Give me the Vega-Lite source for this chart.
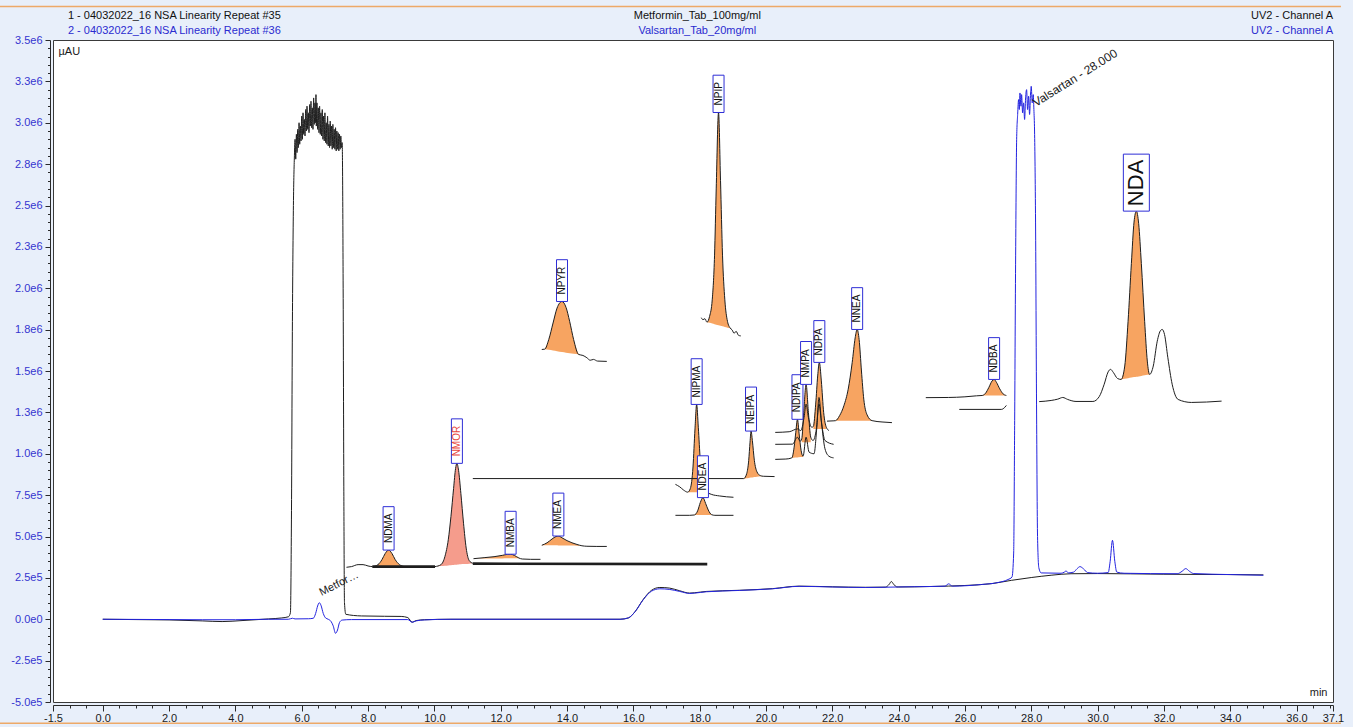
{
  "$schema": "https://vega.github.io/schema/vega-lite/v6.json",
  "width": 1280,
  "height": 662,
  "autosize": {"type": "none"},
  "padding": {"left": 53, "top": 40, "right": 20, "bottom": 25},
  "background": "#e8effa",
  "config": {
    "font": "Liberation Sans",
    "view": {"stroke": "#3a3a3a", "strokeWidth": 1, "fill": "white"}
  },
  "datasets": {
    "header": [
      {"label": "1 - 04032022_16 NSA Linearity Repeat #35", "col": "left", "run": 1},
      {"label": "2 - 04032022_16 NSA Linearity Repeat #36", "col": "left", "run": 2},
      {"label": "Metformin_Tab_100mg/ml", "col": "mid", "run": 1},
      {"label": "Valsartan_Tab_20mg/ml", "col": "mid", "run": 2},
      {"label": "UV2 - Channel A", "col": "right", "run": 1},
      {"label": "UV2 - Channel A", "col": "right", "run": 2}
    ],
    "edges": [
      {"edge": "top"},
      {"edge": "bottom"}
    ],
    "peaks": [
      {"name": "NDMA", "t": 8.62, "v": 418000},
      {"name": "NMOR", "t": 10.68, "v": 942000},
      {"name": "NMBA", "t": 12.3, "v": 393000},
      {"name": "NMEA", "t": 13.74, "v": 503000},
      {"name": "NPYR", "t": 13.85, "v": 1920000},
      {"name": "NIPMA", "t": 17.91, "v": 1298000},
      {"name": "NDEA", "t": 18.1, "v": 735000},
      {"name": "NPIP", "t": 18.57, "v": 3062000},
      {"name": "NEIPA", "t": 19.55, "v": 1137000},
      {"name": "NDIPA", "t": 20.95, "v": 1208000},
      {"name": "NMPA", "t": 21.21, "v": 1419000},
      {"name": "NDPA", "t": 21.61, "v": 1552000},
      {"name": "NNEA", "t": 22.75, "v": 1751000},
      {"name": "NDBA", "t": 26.88, "v": 1449000},
      {"name": "NDA", "t": 31.17, "v": 2466000}
    ],
    "callouts": [
      {"label": "Metfor…", "t": 6.6, "v": 140000},
      {"label": "Valsartan - 28.000", "t": 28.0, "v": 3220000}
    ],
    "traces": [
      {"s": "metformin", "t": 0, "v": 0},
      {"s": "metformin", "t": 1, "v": -2000},
      {"s": "metformin", "t": 2, "v": -4000},
      {"s": "metformin", "t": 3, "v": -10000},
      {"s": "metformin", "t": 3.6, "v": -14000},
      {"s": "metformin", "t": 4.2, "v": -8000},
      {"s": "metformin", "t": 5, "v": 2000},
      {"s": "metformin", "t": 5.4, "v": 8000},
      {"s": "metformin", "t": 5.6, "v": 15000},
      {"s": "metformin", "t": 5.66, "v": 40000},
      {"s": "metformin", "t": 5.69, "v": 600000},
      {"s": "metformin", "t": 5.72, "v": 1800000},
      {"s": "metformin", "t": 5.75, "v": 2500000},
      {"s": "metformin", "t": 5.78, "v": 2800000},
      {"s": "metformin", "t": 5.80, "v": 2900000},
      {"s": "metformin", "t": 5.82, "v": 2780000},
      {"s": "metformin", "t": 5.84, "v": 2930000},
      {"s": "metformin", "t": 5.86, "v": 2820000},
      {"s": "metformin", "t": 5.88, "v": 2960000},
      {"s": "metformin", "t": 5.90, "v": 2850000},
      {"s": "metformin", "t": 5.92, "v": 3000000},
      {"s": "metformin", "t": 5.94, "v": 2870000},
      {"s": "metformin", "t": 5.96, "v": 2980000},
      {"s": "metformin", "t": 5.98, "v": 2890000},
      {"s": "metformin", "t": 6.00, "v": 3040000},
      {"s": "metformin", "t": 6.02, "v": 2900000},
      {"s": "metformin", "t": 6.04, "v": 3060000},
      {"s": "metformin", "t": 6.06, "v": 2930000},
      {"s": "metformin", "t": 6.08, "v": 3020000},
      {"s": "metformin", "t": 6.10, "v": 2920000},
      {"s": "metformin", "t": 6.12, "v": 3080000},
      {"s": "metformin", "t": 6.14, "v": 2950000},
      {"s": "metformin", "t": 6.16, "v": 3100000},
      {"s": "metformin", "t": 6.18, "v": 2960000},
      {"s": "metformin", "t": 6.20, "v": 3060000},
      {"s": "metformin", "t": 6.22, "v": 2940000},
      {"s": "metformin", "t": 6.24, "v": 3110000},
      {"s": "metformin", "t": 6.26, "v": 2980000},
      {"s": "metformin", "t": 6.28, "v": 3130000},
      {"s": "metformin", "t": 6.30, "v": 2970000},
      {"s": "metformin", "t": 6.32, "v": 3090000},
      {"s": "metformin", "t": 6.34, "v": 2960000},
      {"s": "metformin", "t": 6.36, "v": 3150000},
      {"s": "metformin", "t": 6.38, "v": 2990000},
      {"s": "metformin", "t": 6.40, "v": 3120000},
      {"s": "metformin", "t": 6.42, "v": 3000000},
      {"s": "metformin", "t": 6.43, "v": 3170000},
      {"s": "metformin", "t": 6.44, "v": 2980000},
      {"s": "metformin", "t": 6.46, "v": 3120000},
      {"s": "metformin", "t": 6.48, "v": 2960000},
      {"s": "metformin", "t": 6.50, "v": 3090000},
      {"s": "metformin", "t": 6.52, "v": 2940000},
      {"s": "metformin", "t": 6.54, "v": 3100000},
      {"s": "metformin", "t": 6.56, "v": 2930000},
      {"s": "metformin", "t": 6.58, "v": 3060000},
      {"s": "metformin", "t": 6.60, "v": 2920000},
      {"s": "metformin", "t": 6.62, "v": 3080000},
      {"s": "metformin", "t": 6.64, "v": 2900000},
      {"s": "metformin", "t": 6.66, "v": 3040000},
      {"s": "metformin", "t": 6.68, "v": 2890000},
      {"s": "metformin", "t": 6.70, "v": 3060000},
      {"s": "metformin", "t": 6.72, "v": 2880000},
      {"s": "metformin", "t": 6.74, "v": 3000000},
      {"s": "metformin", "t": 6.76, "v": 2870000},
      {"s": "metformin", "t": 6.78, "v": 3040000},
      {"s": "metformin", "t": 6.80, "v": 2860000},
      {"s": "metformin", "t": 6.82, "v": 2990000},
      {"s": "metformin", "t": 6.84, "v": 2850000},
      {"s": "metformin", "t": 6.86, "v": 3010000},
      {"s": "metformin", "t": 6.88, "v": 2860000},
      {"s": "metformin", "t": 6.90, "v": 2980000},
      {"s": "metformin", "t": 6.92, "v": 2840000},
      {"s": "metformin", "t": 6.94, "v": 2990000},
      {"s": "metformin", "t": 6.96, "v": 2850000},
      {"s": "metformin", "t": 6.98, "v": 2960000},
      {"s": "metformin", "t": 7.00, "v": 2840000},
      {"s": "metformin", "t": 7.02, "v": 2970000},
      {"s": "metformin", "t": 7.04, "v": 2830000},
      {"s": "metformin", "t": 7.06, "v": 2950000},
      {"s": "metformin", "t": 7.08, "v": 2840000},
      {"s": "metformin", "t": 7.10, "v": 2940000},
      {"s": "metformin", "t": 7.12, "v": 2830000},
      {"s": "metformin", "t": 7.14, "v": 2930000},
      {"s": "metformin", "t": 7.16, "v": 2840000},
      {"s": "metformin", "t": 7.18, "v": 2920000},
      {"s": "metformin", "t": 7.20, "v": 2850000},
      {"s": "metformin", "t": 7.22, "v": 2880000},
      {"s": "metformin", "t": 7.25, "v": 2000000},
      {"s": "metformin", "t": 7.27, "v": 800000},
      {"s": "metformin", "t": 7.29, "v": 100000},
      {"s": "metformin", "t": 7.33, "v": 30000},
      {"s": "metformin", "t": 7.8, "v": 20000},
      {"s": "metformin", "t": 8.5, "v": 18000},
      {"s": "metformin", "t": 9.0, "v": 17000},
      {"s": "metformin", "t": 9.2, "v": 10000},
      {"s": "metformin", "t": 9.33, "v": -18000},
      {"s": "metformin", "t": 9.45, "v": -8000},
      {"s": "metformin", "t": 9.7, "v": -3000},
      {"s": "metformin", "t": 10.5, "v": 0},
      {"s": "metformin", "t": 15.6, "v": 0},
      {"s": "metformin", "t": 15.85, "v": 8000},
      {"s": "metformin", "t": 16.05, "v": 45000},
      {"s": "metformin", "t": 16.3, "v": 120000},
      {"s": "metformin", "t": 16.55, "v": 175000},
      {"s": "metformin", "t": 16.8, "v": 192000},
      {"s": "metformin", "t": 17.1, "v": 188000},
      {"s": "metformin", "t": 17.4, "v": 172000},
      {"s": "metformin", "t": 17.7, "v": 158000},
      {"s": "metformin", "t": 17.85, "v": 160000},
      {"s": "metformin", "t": 18.2, "v": 168000},
      {"s": "metformin", "t": 19.2, "v": 175000},
      {"s": "metformin", "t": 20.2, "v": 185000},
      {"s": "metformin", "t": 21.0, "v": 200000},
      {"s": "metformin", "t": 22.0, "v": 196000},
      {"s": "metformin", "t": 23.0, "v": 193000},
      {"s": "metformin", "t": 23.6, "v": 194000},
      {"s": "metformin", "t": 23.72, "v": 212000},
      {"s": "metformin", "t": 23.78, "v": 228000},
      {"s": "metformin", "t": 23.85, "v": 212000},
      {"s": "metformin", "t": 23.95, "v": 195000},
      {"s": "metformin", "t": 25.0, "v": 198000},
      {"s": "metformin", "t": 26.0, "v": 204000},
      {"s": "metformin", "t": 26.8, "v": 215000},
      {"s": "metformin", "t": 27.4, "v": 235000},
      {"s": "metformin", "t": 28.0, "v": 252000},
      {"s": "metformin", "t": 28.6, "v": 266000},
      {"s": "metformin", "t": 29.2, "v": 275000},
      {"s": "metformin", "t": 30.0, "v": 276000},
      {"s": "metformin", "t": 32.0, "v": 272000},
      {"s": "metformin", "t": 34.0, "v": 270000},
      {"s": "metformin", "t": 35.0, "v": 268000},

      {"s": "valsartan", "t": 0, "v": 0},
      {"s": "valsartan", "t": 1, "v": -1000},
      {"s": "valsartan", "t": 2, "v": -2000},
      {"s": "valsartan", "t": 3, "v": -3000},
      {"s": "valsartan", "t": 4, "v": -3000},
      {"s": "valsartan", "t": 5, "v": 0},
      {"s": "valsartan", "t": 5.6, "v": 0},
      {"s": "valsartan", "t": 5.72, "v": 6000},
      {"s": "valsartan", "t": 5.8, "v": 2000},
      {"s": "valsartan", "t": 6.2, "v": 3000},
      {"s": "valsartan", "t": 6.35, "v": 6000},
      {"s": "valsartan", "t": 6.42, "v": 35000},
      {"s": "valsartan", "t": 6.48, "v": 80000},
      {"s": "valsartan", "t": 6.53, "v": 100000},
      {"s": "valsartan", "t": 6.58, "v": 85000},
      {"s": "valsartan", "t": 6.65, "v": 35000},
      {"s": "valsartan", "t": 6.72, "v": 8000},
      {"s": "valsartan", "t": 6.8, "v": 0},
      {"s": "valsartan", "t": 6.88, "v": -12000},
      {"s": "valsartan", "t": 6.95, "v": -40000},
      {"s": "valsartan", "t": 7.02, "v": -85000},
      {"s": "valsartan", "t": 7.08, "v": -65000},
      {"s": "valsartan", "t": 7.14, "v": -20000},
      {"s": "valsartan", "t": 7.22, "v": -5000},
      {"s": "valsartan", "t": 7.5, "v": -2000},
      {"s": "valsartan", "t": 9.2, "v": -2000},
      {"s": "valsartan", "t": 9.33, "v": -18000},
      {"s": "valsartan", "t": 9.45, "v": -10000},
      {"s": "valsartan", "t": 9.7, "v": -4000},
      {"s": "valsartan", "t": 10.5, "v": 0},
      {"s": "valsartan", "t": 15.6, "v": 0},
      {"s": "valsartan", "t": 15.85, "v": 8000},
      {"s": "valsartan", "t": 16.05, "v": 45000},
      {"s": "valsartan", "t": 16.3, "v": 118000},
      {"s": "valsartan", "t": 16.55, "v": 170000},
      {"s": "valsartan", "t": 16.8, "v": 184000},
      {"s": "valsartan", "t": 17.1, "v": 180000},
      {"s": "valsartan", "t": 17.4, "v": 168000},
      {"s": "valsartan", "t": 17.7, "v": 156000},
      {"s": "valsartan", "t": 17.85, "v": 158000},
      {"s": "valsartan", "t": 18.2, "v": 166000},
      {"s": "valsartan", "t": 19.2, "v": 174000},
      {"s": "valsartan", "t": 20.2, "v": 184000},
      {"s": "valsartan", "t": 21.0, "v": 199000},
      {"s": "valsartan", "t": 22.0, "v": 195000},
      {"s": "valsartan", "t": 23.0, "v": 192000},
      {"s": "valsartan", "t": 24.0, "v": 195000},
      {"s": "valsartan", "t": 25.0, "v": 198000},
      {"s": "valsartan", "t": 25.4, "v": 200000},
      {"s": "valsartan", "t": 25.51, "v": 214000},
      {"s": "valsartan", "t": 25.62, "v": 200000},
      {"s": "valsartan", "t": 26.5, "v": 210000},
      {"s": "valsartan", "t": 27.0, "v": 222000},
      {"s": "valsartan", "t": 27.3, "v": 240000},
      {"s": "valsartan", "t": 27.42, "v": 255000},
      {"s": "valsartan", "t": 27.47, "v": 400000},
      {"s": "valsartan", "t": 27.5, "v": 1200000},
      {"s": "valsartan", "t": 27.53, "v": 2200000},
      {"s": "valsartan", "t": 27.56, "v": 2900000},
      {"s": "valsartan", "t": 27.59, "v": 3050000},
      {"s": "valsartan", "t": 27.62, "v": 3140000},
      {"s": "valsartan", "t": 27.64, "v": 3080000},
      {"s": "valsartan", "t": 27.66, "v": 3180000},
      {"s": "valsartan", "t": 27.69, "v": 3100000},
      {"s": "valsartan", "t": 27.71, "v": 3170000},
      {"s": "valsartan", "t": 27.74, "v": 3060000},
      {"s": "valsartan", "t": 27.77, "v": 3120000},
      {"s": "valsartan", "t": 27.8, "v": 3020000},
      {"s": "valsartan", "t": 27.83, "v": 3150000},
      {"s": "valsartan", "t": 27.86, "v": 3200000},
      {"s": "valsartan", "t": 27.89, "v": 3080000},
      {"s": "valsartan", "t": 27.92, "v": 3160000},
      {"s": "valsartan", "t": 27.95, "v": 3050000},
      {"s": "valsartan", "t": 27.98, "v": 3180000},
      {"s": "valsartan", "t": 28.0, "v": 3220000},
      {"s": "valsartan", "t": 28.03, "v": 3120000},
      {"s": "valsartan", "t": 28.06, "v": 3170000},
      {"s": "valsartan", "t": 28.08, "v": 3080000},
      {"s": "valsartan", "t": 28.1, "v": 2950000},
      {"s": "valsartan", "t": 28.13, "v": 2400000},
      {"s": "valsartan", "t": 28.16, "v": 1300000},
      {"s": "valsartan", "t": 28.19, "v": 500000},
      {"s": "valsartan", "t": 28.23, "v": 310000},
      {"s": "valsartan", "t": 28.3, "v": 280000},
      {"s": "valsartan", "t": 28.9, "v": 278000},
      {"s": "valsartan", "t": 29.0, "v": 285000},
      {"s": "valsartan", "t": 29.05, "v": 292000},
      {"s": "valsartan", "t": 29.12, "v": 280000},
      {"s": "valsartan", "t": 29.28, "v": 285000},
      {"s": "valsartan", "t": 29.38, "v": 305000},
      {"s": "valsartan", "t": 29.47, "v": 318000},
      {"s": "valsartan", "t": 29.58, "v": 304000},
      {"s": "valsartan", "t": 29.7, "v": 282000},
      {"s": "valsartan", "t": 30.0, "v": 278000},
      {"s": "valsartan", "t": 30.32, "v": 282000},
      {"s": "valsartan", "t": 30.38, "v": 350000},
      {"s": "valsartan", "t": 30.45, "v": 477000},
      {"s": "valsartan", "t": 30.52, "v": 350000},
      {"s": "valsartan", "t": 30.58, "v": 285000},
      {"s": "valsartan", "t": 30.8, "v": 278000},
      {"s": "valsartan", "t": 32.4, "v": 275000},
      {"s": "valsartan", "t": 32.55, "v": 290000},
      {"s": "valsartan", "t": 32.66, "v": 306000},
      {"s": "valsartan", "t": 32.77, "v": 290000},
      {"s": "valsartan", "t": 32.9, "v": 276000},
      {"s": "valsartan", "t": 34.0, "v": 270000},
      {"s": "valsartan", "t": 35.0, "v": 266000},

      {"s": "f_ndma", "t": 7.35, "v": 314000},
      {"s": "f_ndma", "t": 7.5, "v": 318000},
      {"s": "f_ndma", "t": 7.7, "v": 330000},
      {"s": "f_ndma", "t": 7.85, "v": 330000},
      {"s": "f_ndma", "t": 8.0, "v": 322000},
      {"s": "f_ndma", "t": 8.13, "v": 318000, "b": 318000},
      {"s": "f_ndma", "t": 8.3, "v": 330000, "b": 318000},
      {"s": "f_ndma", "t": 8.42, "v": 360000, "b": 318000},
      {"s": "f_ndma", "t": 8.52, "v": 398000, "b": 318000},
      {"s": "f_ndma", "t": 8.62, "v": 418000, "b": 318000},
      {"s": "f_ndma", "t": 8.72, "v": 398000, "b": 318000},
      {"s": "f_ndma", "t": 8.82, "v": 360000, "b": 318000},
      {"s": "f_ndma", "t": 8.95, "v": 330000, "b": 318000},
      {"s": "f_ndma", "t": 9.1, "v": 318000, "b": 318000},

      {"s": "base1", "t": 8.13, "v": 318000},
      {"s": "base1", "t": 10.02, "v": 318000},

      {"s": "f_nmor", "t": 10.02, "v": 318000, "b": 318000},
      {"s": "f_nmor", "t": 10.2, "v": 330000, "b": 321200},
      {"s": "f_nmor", "t": 10.32, "v": 380000, "b": 323300},
      {"s": "f_nmor", "t": 10.42, "v": 480000, "b": 325000},
      {"s": "f_nmor", "t": 10.5, "v": 620000, "b": 326400},
      {"s": "f_nmor", "t": 10.58, "v": 790000, "b": 327800},
      {"s": "f_nmor", "t": 10.64, "v": 910000, "b": 328900},
      {"s": "f_nmor", "t": 10.68, "v": 942000, "b": 329600},
      {"s": "f_nmor", "t": 10.73, "v": 900000, "b": 330500},
      {"s": "f_nmor", "t": 10.8, "v": 760000, "b": 331700},
      {"s": "f_nmor", "t": 10.88, "v": 580000, "b": 333100},
      {"s": "f_nmor", "t": 10.96, "v": 430000, "b": 334500},
      {"s": "f_nmor", "t": 11.05, "v": 355000, "b": 336100},
      {"s": "f_nmor", "t": 11.16, "v": 338000, "b": 338000},

      {"s": "base2", "t": 11.16, "v": 336000},
      {"s": "base2", "t": 18.23, "v": 333000},

      {"s": "f_nmba", "t": 11.18, "v": 366000, "b": 366000},
      {"s": "f_nmba", "t": 11.5, "v": 372000, "b": 366500},
      {"s": "f_nmba", "t": 11.8, "v": 378000, "b": 367000},
      {"s": "f_nmba", "t": 12.05, "v": 386000, "b": 367500},
      {"s": "f_nmba", "t": 12.2, "v": 392000, "b": 368000},
      {"s": "f_nmba", "t": 12.3, "v": 393000, "b": 368000},
      {"s": "f_nmba", "t": 12.42, "v": 385000, "b": 368500},
      {"s": "f_nmba", "t": 12.55, "v": 370000, "b": 369000},
      {"s": "f_nmba", "t": 12.65, "v": 364000},
      {"s": "f_nmba", "t": 12.9, "v": 362000},
      {"s": "f_nmba", "t": 13.2, "v": 362000},

      {"s": "f_nmea", "t": 13.24, "v": 447000, "b": 447000},
      {"s": "f_nmea", "t": 13.4, "v": 462000, "b": 447000},
      {"s": "f_nmea", "t": 13.55, "v": 485000, "b": 446500},
      {"s": "f_nmea", "t": 13.67, "v": 500000, "b": 446500},
      {"s": "f_nmea", "t": 13.74, "v": 503000, "b": 446000},
      {"s": "f_nmea", "t": 13.85, "v": 492000, "b": 446000},
      {"s": "f_nmea", "t": 14.0, "v": 475000, "b": 445500},
      {"s": "f_nmea", "t": 14.15, "v": 462000, "b": 445000},
      {"s": "f_nmea", "t": 14.3, "v": 452000, "b": 444500},
      {"s": "f_nmea", "t": 14.45, "v": 444000, "b": 444000},
      {"s": "f_nmea", "t": 14.6, "v": 441000},
      {"s": "f_nmea", "t": 14.9, "v": 440000},
      {"s": "f_nmea", "t": 15.2, "v": 440000},

      {"s": "f_npyr", "t": 13.24, "v": 1630000},
      {"s": "f_npyr", "t": 13.33, "v": 1632000, "b": 1632000},
      {"s": "f_npyr", "t": 13.45, "v": 1690000, "b": 1628000},
      {"s": "f_npyr", "t": 13.58, "v": 1790000, "b": 1624000},
      {"s": "f_npyr", "t": 13.7, "v": 1880000, "b": 1620000},
      {"s": "f_npyr", "t": 13.85, "v": 1920000, "b": 1615000},
      {"s": "f_npyr", "t": 13.97, "v": 1885000, "b": 1611000},
      {"s": "f_npyr", "t": 14.08, "v": 1800000, "b": 1608000},
      {"s": "f_npyr", "t": 14.2, "v": 1690000, "b": 1604000},
      {"s": "f_npyr", "t": 14.35, "v": 1600000, "b": 1600000},
      {"s": "f_npyr", "t": 14.48, "v": 1594000},
      {"s": "f_npyr", "t": 14.6, "v": 1580000},
      {"s": "f_npyr", "t": 14.7, "v": 1565000},
      {"s": "f_npyr", "t": 14.8, "v": 1570000},
      {"s": "f_npyr", "t": 14.92, "v": 1560000},
      {"s": "f_npyr", "t": 15.2, "v": 1558000},

      {"s": "f_npip", "t": 18.05, "v": 1822000},
      {"s": "f_npip", "t": 18.1, "v": 1810000},
      {"s": "f_npip", "t": 18.16, "v": 1816000},
      {"s": "f_npip", "t": 18.22, "v": 1795000, "b": 1795000},
      {"s": "f_npip", "t": 18.3, "v": 1830000, "b": 1791000},
      {"s": "f_npip", "t": 18.38, "v": 1930000, "b": 1787000},
      {"s": "f_npip", "t": 18.45, "v": 2200000, "b": 1783000},
      {"s": "f_npip", "t": 18.5, "v": 2600000, "b": 1780000},
      {"s": "f_npip", "t": 18.57, "v": 3062000, "b": 1776000},
      {"s": "f_npip", "t": 18.63, "v": 2650000, "b": 1773000},
      {"s": "f_npip", "t": 18.69, "v": 2200000, "b": 1770000},
      {"s": "f_npip", "t": 18.76, "v": 1930000, "b": 1766000},
      {"s": "f_npip", "t": 18.84, "v": 1800000, "b": 1762000},
      {"s": "f_npip", "t": 18.92, "v": 1760000, "b": 1758000},
      {"s": "f_npip", "t": 18.98, "v": 1748000},
      {"s": "f_npip", "t": 19.04, "v": 1728000},
      {"s": "f_npip", "t": 19.1, "v": 1740000},
      {"s": "f_npip", "t": 19.17, "v": 1716000},
      {"s": "f_npip", "t": 19.24, "v": 1712000},

      {"s": "f_neipa", "t": 11.16, "v": 850000},
      {"s": "f_neipa", "t": 19.33, "v": 850000, "b": 850000},
      {"s": "f_neipa", "t": 19.42, "v": 880000, "b": 852000},
      {"s": "f_neipa", "t": 19.48, "v": 960000, "b": 854000},
      {"s": "f_neipa", "t": 19.52, "v": 1070000, "b": 855000},
      {"s": "f_neipa", "t": 19.55, "v": 1137000, "b": 856000},
      {"s": "f_neipa", "t": 19.59, "v": 1080000, "b": 857000},
      {"s": "f_neipa", "t": 19.65, "v": 960000, "b": 859000},
      {"s": "f_neipa", "t": 19.73, "v": 890000, "b": 861000},
      {"s": "f_neipa", "t": 19.83, "v": 868000, "b": 864000},
      {"s": "f_neipa", "t": 19.92, "v": 864000, "b": 864000},
      {"s": "f_neipa", "t": 20.26, "v": 862000},

      {"s": "f_nipma", "t": 17.27, "v": 815000},
      {"s": "f_nipma", "t": 17.4, "v": 800000},
      {"s": "f_nipma", "t": 17.52, "v": 780000},
      {"s": "f_nipma", "t": 17.64, "v": 768000, "b": 768000},
      {"s": "f_nipma", "t": 17.72, "v": 790000, "b": 768000},
      {"s": "f_nipma", "t": 17.8, "v": 920000, "b": 767500},
      {"s": "f_nipma", "t": 17.86, "v": 1150000, "b": 767000},
      {"s": "f_nipma", "t": 17.91, "v": 1298000, "b": 767000},
      {"s": "f_nipma", "t": 17.96, "v": 1160000, "b": 766500},
      {"s": "f_nipma", "t": 18.02, "v": 960000, "b": 766000},
      {"s": "f_nipma", "t": 18.1, "v": 830000, "b": 765500},
      {"s": "f_nipma", "t": 18.2, "v": 772000, "b": 765000},
      {"s": "f_nipma", "t": 18.35, "v": 755000},
      {"s": "f_nipma", "t": 18.6, "v": 745000},
      {"s": "f_nipma", "t": 19.02, "v": 737000},

      {"s": "f_ndea", "t": 17.27, "v": 628000},
      {"s": "f_ndea", "t": 17.7, "v": 628000},
      {"s": "f_ndea", "t": 17.84, "v": 630000, "b": 630000},
      {"s": "f_ndea", "t": 17.94, "v": 655000, "b": 630000},
      {"s": "f_ndea", "t": 18.02, "v": 705000, "b": 630000},
      {"s": "f_ndea", "t": 18.1, "v": 735000, "b": 630000},
      {"s": "f_ndea", "t": 18.18, "v": 700000, "b": 630000},
      {"s": "f_ndea", "t": 18.26, "v": 660000, "b": 630000},
      {"s": "f_ndea", "t": 18.36, "v": 632000, "b": 630000},
      {"s": "f_ndea", "t": 18.46, "v": 628000},
      {"s": "f_ndea", "t": 19.02, "v": 628000},

      {"s": "f_ndipa", "t": 20.28, "v": 966000},
      {"s": "f_ndipa", "t": 20.6, "v": 968000},
      {"s": "f_ndipa", "t": 20.78, "v": 975000, "b": 975000},
      {"s": "f_ndipa", "t": 20.85, "v": 1040000, "b": 976000},
      {"s": "f_ndipa", "t": 20.9, "v": 1130000, "b": 977000},
      {"s": "f_ndipa", "t": 20.95, "v": 1208000, "b": 978000},
      {"s": "f_ndipa", "t": 21.0, "v": 1120000, "b": 979000},
      {"s": "f_ndipa", "t": 21.06, "v": 1020000, "b": 980000},
      {"s": "f_ndipa", "t": 21.12, "v": 985000, "b": 981000},
      {"s": "f_ndipa", "t": 21.21, "v": 1100000},
      {"s": "f_ndipa", "t": 21.3, "v": 1010000},
      {"s": "f_ndipa", "t": 21.45, "v": 1000000},
      {"s": "f_ndipa", "t": 21.53, "v": 1150000},
      {"s": "f_ndipa", "t": 21.6, "v": 1340000},
      {"s": "f_ndipa", "t": 21.67, "v": 1200000},
      {"s": "f_ndipa", "t": 21.78, "v": 1030000},
      {"s": "f_ndipa", "t": 21.9, "v": 985000},
      {"s": "f_ndipa", "t": 22.04, "v": 975000},

      {"s": "f_nmpa", "t": 20.28, "v": 1057000},
      {"s": "f_nmpa", "t": 20.8, "v": 1058000},
      {"s": "f_nmpa", "t": 20.95, "v": 1100000},
      {"s": "f_nmpa", "t": 21.03, "v": 1075000},
      {"s": "f_nmpa", "t": 21.08, "v": 1090000, "b": 1070000},
      {"s": "f_nmpa", "t": 21.14, "v": 1250000, "b": 1070000},
      {"s": "f_nmpa", "t": 21.21, "v": 1419000, "b": 1070000},
      {"s": "f_nmpa", "t": 21.28, "v": 1250000, "b": 1070000},
      {"s": "f_nmpa", "t": 21.35, "v": 1100000, "b": 1070000},
      {"s": "f_nmpa", "t": 21.42, "v": 1080000},
      {"s": "f_nmpa", "t": 21.52, "v": 1150000},
      {"s": "f_nmpa", "t": 21.6, "v": 1300000},
      {"s": "f_nmpa", "t": 21.68, "v": 1180000},
      {"s": "f_nmpa", "t": 21.78, "v": 1080000},
      {"s": "f_nmpa", "t": 22.04, "v": 1057000},

      {"s": "f_ndpa", "t": 20.28, "v": 1129000},
      {"s": "f_ndpa", "t": 20.7, "v": 1133000},
      {"s": "f_ndpa", "t": 20.95, "v": 1150000},
      {"s": "f_ndpa", "t": 21.05, "v": 1140000},
      {"s": "f_ndpa", "t": 21.15, "v": 1220000},
      {"s": "f_ndpa", "t": 21.21, "v": 1300000},
      {"s": "f_ndpa", "t": 21.28, "v": 1220000},
      {"s": "f_ndpa", "t": 21.38, "v": 1160000},
      {"s": "f_ndpa", "t": 21.43, "v": 1165000, "b": 1150000},
      {"s": "f_ndpa", "t": 21.5, "v": 1300000, "b": 1150000},
      {"s": "f_ndpa", "t": 21.56, "v": 1470000, "b": 1150000},
      {"s": "f_ndpa", "t": 21.61, "v": 1552000, "b": 1150000},
      {"s": "f_ndpa", "t": 21.67, "v": 1440000, "b": 1150000},
      {"s": "f_ndpa", "t": 21.74, "v": 1250000, "b": 1150000},
      {"s": "f_ndpa", "t": 21.82, "v": 1160000, "b": 1150000},
      {"s": "f_ndpa", "t": 21.9, "v": 1140000},

      {"s": "f_nnea", "t": 21.84, "v": 1197000},
      {"s": "f_nnea", "t": 22.05, "v": 1199000},
      {"s": "f_nnea", "t": 22.1, "v": 1200000, "b": 1200000},
      {"s": "f_nnea", "t": 22.22, "v": 1230000, "b": 1200000},
      {"s": "f_nnea", "t": 22.35, "v": 1290000, "b": 1200000},
      {"s": "f_nnea", "t": 22.48, "v": 1390000, "b": 1200000},
      {"s": "f_nnea", "t": 22.6, "v": 1550000, "b": 1200000},
      {"s": "f_nnea", "t": 22.69, "v": 1700000, "b": 1200000},
      {"s": "f_nnea", "t": 22.75, "v": 1751000, "b": 1200000},
      {"s": "f_nnea", "t": 22.81, "v": 1690000, "b": 1200000},
      {"s": "f_nnea", "t": 22.88, "v": 1500000, "b": 1200000},
      {"s": "f_nnea", "t": 22.95, "v": 1330000, "b": 1200000},
      {"s": "f_nnea", "t": 23.05, "v": 1235000, "b": 1200000},
      {"s": "f_nnea", "t": 23.2, "v": 1200000, "b": 1200000},
      {"s": "f_nnea", "t": 23.5, "v": 1192000},
      {"s": "f_nnea", "t": 23.8, "v": 1188000},

      {"s": "f_ndba", "t": 24.82, "v": 1339000},
      {"s": "f_ndba", "t": 25.5, "v": 1340000},
      {"s": "f_ndba", "t": 26.0, "v": 1344000},
      {"s": "f_ndba", "t": 26.35, "v": 1350000},
      {"s": "f_ndba", "t": 26.52, "v": 1352000, "b": 1352000},
      {"s": "f_ndba", "t": 26.62, "v": 1365000, "b": 1352000},
      {"s": "f_ndba", "t": 26.72, "v": 1400000, "b": 1352000},
      {"s": "f_ndba", "t": 26.82, "v": 1440000, "b": 1352000},
      {"s": "f_ndba", "t": 26.88, "v": 1449000, "b": 1352000},
      {"s": "f_ndba", "t": 26.95, "v": 1432000, "b": 1352000},
      {"s": "f_ndba", "t": 27.05, "v": 1392000, "b": 1352000},
      {"s": "f_ndba", "t": 27.15, "v": 1362000, "b": 1352000},
      {"s": "f_ndba", "t": 27.25, "v": 1352000, "b": 1352000},

      {"s": "f_ndba2", "t": 25.83, "v": 1268000},
      {"s": "f_ndba2", "t": 27.1, "v": 1268000},
      {"s": "f_ndba2", "t": 27.2, "v": 1280000},
      {"s": "f_ndba2", "t": 27.25, "v": 1292000},

      {"s": "f_nda", "t": 28.24, "v": 1315000},
      {"s": "f_nda", "t": 28.6, "v": 1322000},
      {"s": "f_nda", "t": 28.8, "v": 1330000},
      {"s": "f_nda", "t": 28.95, "v": 1340000},
      {"s": "f_nda", "t": 29.1, "v": 1328000},
      {"s": "f_nda", "t": 29.35, "v": 1316000},
      {"s": "f_nda", "t": 29.86, "v": 1316000},
      {"s": "f_nda", "t": 30.05, "v": 1345000},
      {"s": "f_nda", "t": 30.2, "v": 1420000},
      {"s": "f_nda", "t": 30.32, "v": 1495000},
      {"s": "f_nda", "t": 30.39, "v": 1510000},
      {"s": "f_nda", "t": 30.48, "v": 1490000},
      {"s": "f_nda", "t": 30.6, "v": 1455000},
      {"s": "f_nda", "t": 30.71, "v": 1449000, "b": 1449000},
      {"s": "f_nda", "t": 30.82, "v": 1530000, "b": 1453000},
      {"s": "f_nda", "t": 30.92, "v": 1800000, "b": 1456000},
      {"s": "f_nda", "t": 31.02, "v": 2150000, "b": 1460000},
      {"s": "f_nda", "t": 31.1, "v": 2400000, "b": 1463000},
      {"s": "f_nda", "t": 31.17, "v": 2466000, "b": 1465000},
      {"s": "f_nda", "t": 31.24, "v": 2390000, "b": 1467000},
      {"s": "f_nda", "t": 31.32, "v": 2150000, "b": 1470000},
      {"s": "f_nda", "t": 31.42, "v": 1800000, "b": 1474000},
      {"s": "f_nda", "t": 31.5, "v": 1560000, "b": 1477000},
      {"s": "f_nda", "t": 31.57, "v": 1479000, "b": 1479000},
      {"s": "f_nda", "t": 31.68, "v": 1530000},
      {"s": "f_nda", "t": 31.8, "v": 1680000},
      {"s": "f_nda", "t": 31.9, "v": 1745000},
      {"s": "f_nda", "t": 31.95, "v": 1751000},
      {"s": "f_nda", "t": 32.02, "v": 1720000},
      {"s": "f_nda", "t": 32.12, "v": 1580000},
      {"s": "f_nda", "t": 32.25, "v": 1420000},
      {"s": "f_nda", "t": 32.43, "v": 1328000},
      {"s": "f_nda", "t": 32.83, "v": 1310000},
      {"s": "f_nda", "t": 33.74, "v": 1318000}
    ]
  },
  "layer": [
    {
      "encoding": {
        "x": {
          "field": "t", "type": "quantitative",
          "scale": {"domain": [-1.5, 37.1], "nice": false, "zero": false},
          "axis": {"values": [-1.5,-1,-0.5,0,0.5,1,1.5,2,2.5,3,3.5,4,4.5,5,5.5,6,6.5,7,7.5,8,8.5,9,9.5,10,10.5,11,11.5,12,12.5,13,13.5,14,14.5,15,15.5,16,16.5,17,17.5,18,18.5,19,19.5,20,20.5,21,21.5,22,22.5,23,23.5,24,24.5,25,25.5,26,26.5,27,27.5,28,28.5,29,29.5,30,30.5,31,31.5,32,32.5,33,33.5,34,34.5,35,35.5,36,36.5,37,37.1], "labelExpr": "(datum.value === -1.5 || datum.value === 37.1 || datum.value % 2 === 0) ? replace(format(datum.value, '.1f'), '\u2212', '-') : ''", "labelOverlap": false, "labelFlush": false, "labelFontSize": 11, "labelColor": "#1a1a1a", "labelPadding": 1, "offset": 3, "grid": false, "domainColor": "#2a2a2a", "tickColor": "#2a2a2a", "tickSize": {"condition": {"test": "datum.value === -1.5 || datum.value === 37.1 || datum.value % 2 === 0", "value": 6}, "value": 3}, "title": "min", "titleFontSize": 11, "titleFontWeight": "normal", "titleColor": "#1a1a1a", "titleAnchor": null, "titleAlign": "right", "titleBaseline": "alphabetic", "titleX": 1274, "titleY": -10}
        },
        "y": {
          "field": "v", "type": "quantitative",
          "scale": {"domain": [-500000, 3500000], "nice": false, "zero": false},
          "axis": {"values": [-500000,-450000,-400000,-350000,-300000,-250000,-200000,-150000,-100000,-50000,0,50000,100000,150000,200000,250000,300000,350000,400000,450000,500000,550000,600000,650000,700000,750000,800000,850000,900000,950000,1000000,1050000,1100000,1150000,1200000,1250000,1300000,1350000,1400000,1450000,1500000,1550000,1600000,1650000,1700000,1750000,1800000,1850000,1900000,1950000,2000000,2050000,2100000,2150000,2200000,2250000,2300000,2350000,2400000,2450000,2500000,2550000,2600000,2650000,2700000,2750000,2800000,2850000,2900000,2950000,3000000,3050000,3100000,3150000,3200000,3250000,3300000,3350000,3400000,3450000,3500000], "labelExpr": "datum.value % 250000 === 0 ? replace(replace(format(datum.value, '.1e'), '+', ''), '\u2212', '-') : ''", "labelOverlap": false, "labelFlush": false, "labelFontSize": 11, "labelColor": "#3535d0", "labelPadding": 3, "offset": 3, "grid": false, "domainColor": "#2a2a2a", "tickColor": "#2a2a2a", "tickSize": {"condition": {"test": "datum.value % 250000 === 0", "value": 5}, "value": 2.5}, "title": "µAU", "titleAngle": 0, "titleFontSize": 11, "titleFontWeight": "normal", "titleColor": "#1a1a1a", "titleAnchor": null, "titleAlign": "left", "titleBaseline": "top", "titleX": 8, "titleY": 5}
        }
      },
      "layer": [
        {
          "data": {"name": "traces"},
          "transform": [{"filter": "isValid(datum.b)"}],
          "mark": {"type": "area", "interpolate": "monotone", "opacity": 1},
          "encoding": {
            "y2": {"field": "b"},
            "detail": {"field": "s"},
            "color": {"condition": {"test": "datum.s === 'f_nmor'", "value": "#f59c8c"}, "value": "#f7a461"}
          }
        },
        {
          "data": {"name": "traces"},
          "transform": [{"filter": "datum.s !== 'valsartan'"}],
          "mark": {"type": "line", "interpolate": "monotone"},
          "encoding": {
            "detail": {"field": "s"},
            "color": {"value": "#1e1e1e"},
            "strokeWidth": {"condition": {"test": "datum.s === 'base1' || datum.s === 'base2'", "value": 2.6}, "value": 1}
          }
        },
        {
          "data": {"name": "traces"},
          "transform": [{"filter": "datum.s === 'valsartan'"}],
          "mark": {"type": "line", "interpolate": "monotone", "color": "#2323e0", "strokeWidth": 1}
        },
        {
          "data": {"name": "peaks"},
          "mark": {"type": "point", "filled": true, "size": 4, "fill": "white", "stroke": "#2e2ed6", "strokeWidth": 1, "opacity": 1},
          "encoding": {
            "shape": {
              "field": "name",
              "type": "nominal",
              "legend": null,
              "scale": {
                "domain": ["NDMA","NMOR","NMBA","NMEA","NPYR","NIPMA","NDEA","NPIP","NEIPA","NDIPA","NMPA","NDPA","NNEA","NDBA","NDA"],
                "range": [
                  "M-5.5,0L5.5,0L5.5,-43.4L-5.5,-43.4Z",
                  "M-5.5,0L5.5,0L5.5,-44.5L-5.5,-44.5Z",
                  "M-5.5,0L5.5,0L5.5,-42.9L-5.5,-42.9Z",
                  "M-5.5,0L5.5,0L5.5,-42.9L-5.5,-42.9Z",
                  "M-5.5,0L5.5,0L5.5,-41.8L-5.5,-41.8Z",
                  "M-5.5,0L5.5,0L5.5,-45.7L-5.5,-45.7Z",
                  "M-5.5,0L5.5,0L5.5,-41.8L-5.5,-41.8Z",
                  "M-5.5,0L5.5,0L5.5,-37.3L-5.5,-37.3Z",
                  "M-5.5,0L5.5,0L5.5,-44L-5.5,-44Z",
                  "M-5.5,0L5.5,0L5.5,-44.6L-5.5,-44.6Z",
                  "M-5.5,0L5.5,0L5.5,-42.9L-5.5,-42.9Z",
                  "M-5.5,0L5.5,0L5.5,-41.8L-5.5,-41.8Z",
                  "M-5.5,0L5.5,0L5.5,-41.8L-5.5,-41.8Z",
                  "M-5.5,0L5.5,0L5.5,-41.8L-5.5,-41.8Z",
                  "M-13,0L13,0L13,-57L-13,-57Z"
                ]
              }
            }
          }
        },
        {
          "data": {"name": "peaks"},
          "transform": [{"filter": "datum.name !== 'NDA'"}],
          "mark": {"type": "text", "angle": 270, "align": "left", "baseline": "middle", "dx": 7, "fontSize": 10},
          "encoding": {
            "text": {"field": "name"},
            "color": {"condition": {"test": "datum.name === 'NMOR'", "value": "#e8453c"}, "value": "#111111"}
          }
        },
        {
          "data": {"name": "peaks"},
          "transform": [{"filter": "datum.name === 'NDA'"}],
          "mark": {"type": "text", "angle": 270, "align": "left", "baseline": "middle", "dx": 5, "fontSize": 22, "color": "#111111"},
          "encoding": {"text": {"field": "name"}}
        },
        {
          "data": {"name": "callouts"},
          "transform": [{"filter": "datum.label !== 'Valsartan - 28.000'"}],
          "mark": {"type": "text", "angle": 333, "align": "left", "baseline": "alphabetic", "fontSize": 11, "color": "#1a1a1a"},
          "encoding": {"text": {"field": "label"}}
        },
        {
          "data": {"name": "callouts"},
          "transform": [{"filter": "datum.label === 'Valsartan - 28.000'"}],
          "mark": {"type": "text", "angle": 328, "align": "left", "baseline": "alphabetic", "dx": -7, "dy": 20, "fontSize": 12, "color": "#1a1a1a"},
          "encoding": {"text": {"field": "label"}}
        }
      ]
    },
    {
      "data": {"name": "edges"},
      "transform": [{"filter": "datum.edge === 'top'"}],
      "mark": {"type": "rule", "color": "#eda968", "strokeWidth": 1.5, "clip": false},
      "encoding": {
        "x": {"datum": -3.11, "type": "quantitative", "scale": {"domain": [-1.5, 37.1], "nice": false, "zero": false}, "axis": {"values": [-1.5,-1,-0.5,0,0.5,1,1.5,2,2.5,3,3.5,4,4.5,5,5.5,6,6.5,7,7.5,8,8.5,9,9.5,10,10.5,11,11.5,12,12.5,13,13.5,14,14.5,15,15.5,16,16.5,17,17.5,18,18.5,19,19.5,20,20.5,21,21.5,22,22.5,23,23.5,24,24.5,25,25.5,26,26.5,27,27.5,28,28.5,29,29.5,30,30.5,31,31.5,32,32.5,33,33.5,34,34.5,35,35.5,36,36.5,37,37.1], "labelExpr": "(datum.value === -1.5 || datum.value === 37.1 || datum.value % 2 === 0) ? replace(format(datum.value, '.1f'), '\u2212', '-') : ''", "labelOverlap": false, "labelFlush": false, "labelFontSize": 11, "labelColor": "#1a1a1a", "labelPadding": 1, "offset": 3, "grid": false, "domainColor": "#2a2a2a", "tickColor": "#2a2a2a", "tickSize": {"condition": {"test": "datum.value === -1.5 || datum.value === 37.1 || datum.value % 2 === 0", "value": 6}, "value": 3}, "title": "min", "titleFontSize": 11, "titleFontWeight": "normal", "titleColor": "#1a1a1a", "titleAnchor": null, "titleAlign": "right", "titleBaseline": "alphabetic", "titleX": 1274, "titleY": -10}},
        "x2": {"datum": 37.34},
        "y": {"datum": 3702000, "type": "quantitative", "scale": {"domain": [-500000, 3500000], "nice": false, "zero": false}, "axis": {"values": [-500000,-450000,-400000,-350000,-300000,-250000,-200000,-150000,-100000,-50000,0,50000,100000,150000,200000,250000,300000,350000,400000,450000,500000,550000,600000,650000,700000,750000,800000,850000,900000,950000,1000000,1050000,1100000,1150000,1200000,1250000,1300000,1350000,1400000,1450000,1500000,1550000,1600000,1650000,1700000,1750000,1800000,1850000,1900000,1950000,2000000,2050000,2100000,2150000,2200000,2250000,2300000,2350000,2400000,2450000,2500000,2550000,2600000,2650000,2700000,2750000,2800000,2850000,2900000,2950000,3000000,3050000,3100000,3150000,3200000,3250000,3300000,3350000,3400000,3450000,3500000], "labelExpr": "datum.value % 250000 === 0 ? replace(replace(format(datum.value, '.1e'), '+', ''), '\u2212', '-') : ''", "labelOverlap": false, "labelFlush": false, "labelFontSize": 11, "labelColor": "#3535d0", "labelPadding": 3, "offset": 3, "grid": false, "domainColor": "#2a2a2a", "tickColor": "#2a2a2a", "tickSize": {"condition": {"test": "datum.value % 250000 === 0", "value": 5}, "value": 2.5}, "title": "µAU", "titleAngle": 0, "titleFontSize": 11, "titleFontWeight": "normal", "titleColor": "#1a1a1a", "titleAnchor": null, "titleAlign": "left", "titleBaseline": "top", "titleX": 8, "titleY": 5}}
      }
    },
    {
      "data": {"name": "edges"},
      "transform": [{"filter": "datum.edge === 'bottom'"}],
      "mark": {"type": "rule", "color": "#eda968", "strokeWidth": 1.5, "clip": false},
      "encoding": {
        "x": {"datum": -3.11, "type": "quantitative", "scale": {"domain": [-1.5, 37.1], "nice": false, "zero": false}, "axis": {"values": [-1.5,-1,-0.5,0,0.5,1,1.5,2,2.5,3,3.5,4,4.5,5,5.5,6,6.5,7,7.5,8,8.5,9,9.5,10,10.5,11,11.5,12,12.5,13,13.5,14,14.5,15,15.5,16,16.5,17,17.5,18,18.5,19,19.5,20,20.5,21,21.5,22,22.5,23,23.5,24,24.5,25,25.5,26,26.5,27,27.5,28,28.5,29,29.5,30,30.5,31,31.5,32,32.5,33,33.5,34,34.5,35,35.5,36,36.5,37,37.1], "labelExpr": "(datum.value === -1.5 || datum.value === 37.1 || datum.value % 2 === 0) ? replace(format(datum.value, '.1f'), '\u2212', '-') : ''", "labelOverlap": false, "labelFlush": false, "labelFontSize": 11, "labelColor": "#1a1a1a", "labelPadding": 1, "offset": 3, "grid": false, "domainColor": "#2a2a2a", "tickColor": "#2a2a2a", "tickSize": {"condition": {"test": "datum.value === -1.5 || datum.value === 37.1 || datum.value % 2 === 0", "value": 6}, "value": 3}, "title": "min", "titleFontSize": 11, "titleFontWeight": "normal", "titleColor": "#1a1a1a", "titleAnchor": null, "titleAlign": "right", "titleBaseline": "alphabetic", "titleX": 1274, "titleY": -10}},
        "x2": {"datum": 37.34},
        "y": {"datum": -628000, "type": "quantitative", "scale": {"domain": [-500000, 3500000], "nice": false, "zero": false}, "axis": {"values": [-500000,-450000,-400000,-350000,-300000,-250000,-200000,-150000,-100000,-50000,0,50000,100000,150000,200000,250000,300000,350000,400000,450000,500000,550000,600000,650000,700000,750000,800000,850000,900000,950000,1000000,1050000,1100000,1150000,1200000,1250000,1300000,1350000,1400000,1450000,1500000,1550000,1600000,1650000,1700000,1750000,1800000,1850000,1900000,1950000,2000000,2050000,2100000,2150000,2200000,2250000,2300000,2350000,2400000,2450000,2500000,2550000,2600000,2650000,2700000,2750000,2800000,2850000,2900000,2950000,3000000,3050000,3100000,3150000,3200000,3250000,3300000,3350000,3400000,3450000,3500000], "labelExpr": "datum.value % 250000 === 0 ? replace(replace(format(datum.value, '.1e'), '+', ''), '\u2212', '-') : ''", "labelOverlap": false, "labelFlush": false, "labelFontSize": 11, "labelColor": "#3535d0", "labelPadding": 3, "offset": 3, "grid": false, "domainColor": "#2a2a2a", "tickColor": "#2a2a2a", "tickSize": {"condition": {"test": "datum.value % 250000 === 0", "value": 5}, "value": 2.5}, "title": "µAU", "titleAngle": 0, "titleFontSize": 11, "titleFontWeight": "normal", "titleColor": "#1a1a1a", "titleAnchor": null, "titleAlign": "left", "titleBaseline": "top", "titleX": 8, "titleY": 5}}
      }
    },
    {
      "data": {"name": "header"},
      "transform": [{"filter": "datum.run === 1"}],
      "layer": [
        {
          "transform": [{"filter": "datum.col === 'left'"}],
          "mark": {"type": "text", "fontSize": 11, "color": "#111111", "align": "left", "baseline": "middle", "clip": false},
          "encoding": {
            "text": {"field": "label"},
            "x": {"datum": -1.05, "type": "quantitative", "scale": {"domain": [-1.5, 37.1], "nice": false, "zero": false}, "axis": {"values": [-1.5,-1,-0.5,0,0.5,1,1.5,2,2.5,3,3.5,4,4.5,5,5.5,6,6.5,7,7.5,8,8.5,9,9.5,10,10.5,11,11.5,12,12.5,13,13.5,14,14.5,15,15.5,16,16.5,17,17.5,18,18.5,19,19.5,20,20.5,21,21.5,22,22.5,23,23.5,24,24.5,25,25.5,26,26.5,27,27.5,28,28.5,29,29.5,30,30.5,31,31.5,32,32.5,33,33.5,34,34.5,35,35.5,36,36.5,37,37.1], "labelExpr": "(datum.value === -1.5 || datum.value === 37.1 || datum.value % 2 === 0) ? replace(format(datum.value, '.1f'), '\u2212', '-') : ''", "labelOverlap": false, "labelFlush": false, "labelFontSize": 11, "labelColor": "#1a1a1a", "labelPadding": 1, "offset": 3, "grid": false, "domainColor": "#2a2a2a", "tickColor": "#2a2a2a", "tickSize": {"condition": {"test": "datum.value === -1.5 || datum.value === 37.1 || datum.value % 2 === 0", "value": 6}, "value": 3}, "title": "min", "titleFontSize": 11, "titleFontWeight": "normal", "titleColor": "#1a1a1a", "titleAnchor": null, "titleAlign": "right", "titleBaseline": "alphabetic", "titleX": 1274, "titleY": -10}},
            "y": {"datum": 3644000, "type": "quantitative", "scale": {"domain": [-500000, 3500000], "nice": false, "zero": false}, "axis": {"values": [-500000,-450000,-400000,-350000,-300000,-250000,-200000,-150000,-100000,-50000,0,50000,100000,150000,200000,250000,300000,350000,400000,450000,500000,550000,600000,650000,700000,750000,800000,850000,900000,950000,1000000,1050000,1100000,1150000,1200000,1250000,1300000,1350000,1400000,1450000,1500000,1550000,1600000,1650000,1700000,1750000,1800000,1850000,1900000,1950000,2000000,2050000,2100000,2150000,2200000,2250000,2300000,2350000,2400000,2450000,2500000,2550000,2600000,2650000,2700000,2750000,2800000,2850000,2900000,2950000,3000000,3050000,3100000,3150000,3200000,3250000,3300000,3350000,3400000,3450000,3500000], "labelExpr": "datum.value % 250000 === 0 ? replace(replace(format(datum.value, '.1e'), '+', ''), '\u2212', '-') : ''", "labelOverlap": false, "labelFlush": false, "labelFontSize": 11, "labelColor": "#3535d0", "labelPadding": 3, "offset": 3, "grid": false, "domainColor": "#2a2a2a", "tickColor": "#2a2a2a", "tickSize": {"condition": {"test": "datum.value % 250000 === 0", "value": 5}, "value": 2.5}, "title": "µAU", "titleAngle": 0, "titleFontSize": 11, "titleFontWeight": "normal", "titleColor": "#1a1a1a", "titleAnchor": null, "titleAlign": "left", "titleBaseline": "top", "titleX": 8, "titleY": 5}}
          }
        },
        {
          "transform": [{"filter": "datum.col === 'mid'"}],
          "mark": {"type": "text", "fontSize": 11, "color": "#111111", "align": "center", "baseline": "middle", "clip": false},
          "encoding": {
            "text": {"field": "label"},
            "x": {"datum": 17.93, "type": "quantitative", "scale": {"domain": [-1.5, 37.1], "nice": false, "zero": false}, "axis": {"values": [-1.5,-1,-0.5,0,0.5,1,1.5,2,2.5,3,3.5,4,4.5,5,5.5,6,6.5,7,7.5,8,8.5,9,9.5,10,10.5,11,11.5,12,12.5,13,13.5,14,14.5,15,15.5,16,16.5,17,17.5,18,18.5,19,19.5,20,20.5,21,21.5,22,22.5,23,23.5,24,24.5,25,25.5,26,26.5,27,27.5,28,28.5,29,29.5,30,30.5,31,31.5,32,32.5,33,33.5,34,34.5,35,35.5,36,36.5,37,37.1], "labelExpr": "(datum.value === -1.5 || datum.value === 37.1 || datum.value % 2 === 0) ? replace(format(datum.value, '.1f'), '\u2212', '-') : ''", "labelOverlap": false, "labelFlush": false, "labelFontSize": 11, "labelColor": "#1a1a1a", "labelPadding": 1, "offset": 3, "grid": false, "domainColor": "#2a2a2a", "tickColor": "#2a2a2a", "tickSize": {"condition": {"test": "datum.value === -1.5 || datum.value === 37.1 || datum.value % 2 === 0", "value": 6}, "value": 3}, "title": "min", "titleFontSize": 11, "titleFontWeight": "normal", "titleColor": "#1a1a1a", "titleAnchor": null, "titleAlign": "right", "titleBaseline": "alphabetic", "titleX": 1274, "titleY": -10}},
            "y": {"datum": 3644000, "type": "quantitative", "scale": {"domain": [-500000, 3500000], "nice": false, "zero": false}, "axis": {"values": [-500000,-450000,-400000,-350000,-300000,-250000,-200000,-150000,-100000,-50000,0,50000,100000,150000,200000,250000,300000,350000,400000,450000,500000,550000,600000,650000,700000,750000,800000,850000,900000,950000,1000000,1050000,1100000,1150000,1200000,1250000,1300000,1350000,1400000,1450000,1500000,1550000,1600000,1650000,1700000,1750000,1800000,1850000,1900000,1950000,2000000,2050000,2100000,2150000,2200000,2250000,2300000,2350000,2400000,2450000,2500000,2550000,2600000,2650000,2700000,2750000,2800000,2850000,2900000,2950000,3000000,3050000,3100000,3150000,3200000,3250000,3300000,3350000,3400000,3450000,3500000], "labelExpr": "datum.value % 250000 === 0 ? replace(replace(format(datum.value, '.1e'), '+', ''), '\u2212', '-') : ''", "labelOverlap": false, "labelFlush": false, "labelFontSize": 11, "labelColor": "#3535d0", "labelPadding": 3, "offset": 3, "grid": false, "domainColor": "#2a2a2a", "tickColor": "#2a2a2a", "tickSize": {"condition": {"test": "datum.value % 250000 === 0", "value": 5}, "value": 2.5}, "title": "µAU", "titleAngle": 0, "titleFontSize": 11, "titleFontWeight": "normal", "titleColor": "#1a1a1a", "titleAnchor": null, "titleAlign": "left", "titleBaseline": "top", "titleX": 8, "titleY": 5}}
          }
        },
        {
          "transform": [{"filter": "datum.col === 'right'"}],
          "mark": {"type": "text", "fontSize": 11, "color": "#111111", "align": "right", "baseline": "middle", "clip": false},
          "encoding": {
            "text": {"field": "label"},
            "x": {"datum": 37.1, "type": "quantitative", "scale": {"domain": [-1.5, 37.1], "nice": false, "zero": false}, "axis": {"values": [-1.5,-1,-0.5,0,0.5,1,1.5,2,2.5,3,3.5,4,4.5,5,5.5,6,6.5,7,7.5,8,8.5,9,9.5,10,10.5,11,11.5,12,12.5,13,13.5,14,14.5,15,15.5,16,16.5,17,17.5,18,18.5,19,19.5,20,20.5,21,21.5,22,22.5,23,23.5,24,24.5,25,25.5,26,26.5,27,27.5,28,28.5,29,29.5,30,30.5,31,31.5,32,32.5,33,33.5,34,34.5,35,35.5,36,36.5,37,37.1], "labelExpr": "(datum.value === -1.5 || datum.value === 37.1 || datum.value % 2 === 0) ? replace(format(datum.value, '.1f'), '\u2212', '-') : ''", "labelOverlap": false, "labelFlush": false, "labelFontSize": 11, "labelColor": "#1a1a1a", "labelPadding": 1, "offset": 3, "grid": false, "domainColor": "#2a2a2a", "tickColor": "#2a2a2a", "tickSize": {"condition": {"test": "datum.value === -1.5 || datum.value === 37.1 || datum.value % 2 === 0", "value": 6}, "value": 3}, "title": "min", "titleFontSize": 11, "titleFontWeight": "normal", "titleColor": "#1a1a1a", "titleAnchor": null, "titleAlign": "right", "titleBaseline": "alphabetic", "titleX": 1274, "titleY": -10}},
            "y": {"datum": 3644000, "type": "quantitative", "scale": {"domain": [-500000, 3500000], "nice": false, "zero": false}, "axis": {"values": [-500000,-450000,-400000,-350000,-300000,-250000,-200000,-150000,-100000,-50000,0,50000,100000,150000,200000,250000,300000,350000,400000,450000,500000,550000,600000,650000,700000,750000,800000,850000,900000,950000,1000000,1050000,1100000,1150000,1200000,1250000,1300000,1350000,1400000,1450000,1500000,1550000,1600000,1650000,1700000,1750000,1800000,1850000,1900000,1950000,2000000,2050000,2100000,2150000,2200000,2250000,2300000,2350000,2400000,2450000,2500000,2550000,2600000,2650000,2700000,2750000,2800000,2850000,2900000,2950000,3000000,3050000,3100000,3150000,3200000,3250000,3300000,3350000,3400000,3450000,3500000], "labelExpr": "datum.value % 250000 === 0 ? replace(replace(format(datum.value, '.1e'), '+', ''), '\u2212', '-') : ''", "labelOverlap": false, "labelFlush": false, "labelFontSize": 11, "labelColor": "#3535d0", "labelPadding": 3, "offset": 3, "grid": false, "domainColor": "#2a2a2a", "tickColor": "#2a2a2a", "tickSize": {"condition": {"test": "datum.value % 250000 === 0", "value": 5}, "value": 2.5}, "title": "µAU", "titleAngle": 0, "titleFontSize": 11, "titleFontWeight": "normal", "titleColor": "#1a1a1a", "titleAnchor": null, "titleAlign": "left", "titleBaseline": "top", "titleX": 8, "titleY": 5}}
          }
        }
      ]
    },
    {
      "data": {"name": "header"},
      "transform": [{"filter": "datum.run === 2"}],
      "layer": [
        {
          "transform": [{"filter": "datum.col === 'left'"}],
          "mark": {"type": "text", "fontSize": 11, "color": "#2b2bd0", "align": "left", "baseline": "middle", "clip": false},
          "encoding": {
            "text": {"field": "label"},
            "x": {"datum": -1.05, "type": "quantitative", "scale": {"domain": [-1.5, 37.1], "nice": false, "zero": false}, "axis": {"values": [-1.5,-1,-0.5,0,0.5,1,1.5,2,2.5,3,3.5,4,4.5,5,5.5,6,6.5,7,7.5,8,8.5,9,9.5,10,10.5,11,11.5,12,12.5,13,13.5,14,14.5,15,15.5,16,16.5,17,17.5,18,18.5,19,19.5,20,20.5,21,21.5,22,22.5,23,23.5,24,24.5,25,25.5,26,26.5,27,27.5,28,28.5,29,29.5,30,30.5,31,31.5,32,32.5,33,33.5,34,34.5,35,35.5,36,36.5,37,37.1], "labelExpr": "(datum.value === -1.5 || datum.value === 37.1 || datum.value % 2 === 0) ? replace(format(datum.value, '.1f'), '\u2212', '-') : ''", "labelOverlap": false, "labelFlush": false, "labelFontSize": 11, "labelColor": "#1a1a1a", "labelPadding": 1, "offset": 3, "grid": false, "domainColor": "#2a2a2a", "tickColor": "#2a2a2a", "tickSize": {"condition": {"test": "datum.value === -1.5 || datum.value === 37.1 || datum.value % 2 === 0", "value": 6}, "value": 3}, "title": "min", "titleFontSize": 11, "titleFontWeight": "normal", "titleColor": "#1a1a1a", "titleAnchor": null, "titleAlign": "right", "titleBaseline": "alphabetic", "titleX": 1274, "titleY": -10}},
            "y": {"datum": 3557000, "type": "quantitative", "scale": {"domain": [-500000, 3500000], "nice": false, "zero": false}, "axis": {"values": [-500000,-450000,-400000,-350000,-300000,-250000,-200000,-150000,-100000,-50000,0,50000,100000,150000,200000,250000,300000,350000,400000,450000,500000,550000,600000,650000,700000,750000,800000,850000,900000,950000,1000000,1050000,1100000,1150000,1200000,1250000,1300000,1350000,1400000,1450000,1500000,1550000,1600000,1650000,1700000,1750000,1800000,1850000,1900000,1950000,2000000,2050000,2100000,2150000,2200000,2250000,2300000,2350000,2400000,2450000,2500000,2550000,2600000,2650000,2700000,2750000,2800000,2850000,2900000,2950000,3000000,3050000,3100000,3150000,3200000,3250000,3300000,3350000,3400000,3450000,3500000], "labelExpr": "datum.value % 250000 === 0 ? replace(replace(format(datum.value, '.1e'), '+', ''), '\u2212', '-') : ''", "labelOverlap": false, "labelFlush": false, "labelFontSize": 11, "labelColor": "#3535d0", "labelPadding": 3, "offset": 3, "grid": false, "domainColor": "#2a2a2a", "tickColor": "#2a2a2a", "tickSize": {"condition": {"test": "datum.value % 250000 === 0", "value": 5}, "value": 2.5}, "title": "µAU", "titleAngle": 0, "titleFontSize": 11, "titleFontWeight": "normal", "titleColor": "#1a1a1a", "titleAnchor": null, "titleAlign": "left", "titleBaseline": "top", "titleX": 8, "titleY": 5}}
          }
        },
        {
          "transform": [{"filter": "datum.col === 'mid'"}],
          "mark": {"type": "text", "fontSize": 11, "color": "#2b2bd0", "align": "center", "baseline": "middle", "clip": false},
          "encoding": {
            "text": {"field": "label"},
            "x": {"datum": 17.93, "type": "quantitative", "scale": {"domain": [-1.5, 37.1], "nice": false, "zero": false}, "axis": {"values": [-1.5,-1,-0.5,0,0.5,1,1.5,2,2.5,3,3.5,4,4.5,5,5.5,6,6.5,7,7.5,8,8.5,9,9.5,10,10.5,11,11.5,12,12.5,13,13.5,14,14.5,15,15.5,16,16.5,17,17.5,18,18.5,19,19.5,20,20.5,21,21.5,22,22.5,23,23.5,24,24.5,25,25.5,26,26.5,27,27.5,28,28.5,29,29.5,30,30.5,31,31.5,32,32.5,33,33.5,34,34.5,35,35.5,36,36.5,37,37.1], "labelExpr": "(datum.value === -1.5 || datum.value === 37.1 || datum.value % 2 === 0) ? replace(format(datum.value, '.1f'), '\u2212', '-') : ''", "labelOverlap": false, "labelFlush": false, "labelFontSize": 11, "labelColor": "#1a1a1a", "labelPadding": 1, "offset": 3, "grid": false, "domainColor": "#2a2a2a", "tickColor": "#2a2a2a", "tickSize": {"condition": {"test": "datum.value === -1.5 || datum.value === 37.1 || datum.value % 2 === 0", "value": 6}, "value": 3}, "title": "min", "titleFontSize": 11, "titleFontWeight": "normal", "titleColor": "#1a1a1a", "titleAnchor": null, "titleAlign": "right", "titleBaseline": "alphabetic", "titleX": 1274, "titleY": -10}},
            "y": {"datum": 3557000, "type": "quantitative", "scale": {"domain": [-500000, 3500000], "nice": false, "zero": false}, "axis": {"values": [-500000,-450000,-400000,-350000,-300000,-250000,-200000,-150000,-100000,-50000,0,50000,100000,150000,200000,250000,300000,350000,400000,450000,500000,550000,600000,650000,700000,750000,800000,850000,900000,950000,1000000,1050000,1100000,1150000,1200000,1250000,1300000,1350000,1400000,1450000,1500000,1550000,1600000,1650000,1700000,1750000,1800000,1850000,1900000,1950000,2000000,2050000,2100000,2150000,2200000,2250000,2300000,2350000,2400000,2450000,2500000,2550000,2600000,2650000,2700000,2750000,2800000,2850000,2900000,2950000,3000000,3050000,3100000,3150000,3200000,3250000,3300000,3350000,3400000,3450000,3500000], "labelExpr": "datum.value % 250000 === 0 ? replace(replace(format(datum.value, '.1e'), '+', ''), '\u2212', '-') : ''", "labelOverlap": false, "labelFlush": false, "labelFontSize": 11, "labelColor": "#3535d0", "labelPadding": 3, "offset": 3, "grid": false, "domainColor": "#2a2a2a", "tickColor": "#2a2a2a", "tickSize": {"condition": {"test": "datum.value % 250000 === 0", "value": 5}, "value": 2.5}, "title": "µAU", "titleAngle": 0, "titleFontSize": 11, "titleFontWeight": "normal", "titleColor": "#1a1a1a", "titleAnchor": null, "titleAlign": "left", "titleBaseline": "top", "titleX": 8, "titleY": 5}}
          }
        },
        {
          "transform": [{"filter": "datum.col === 'right'"}],
          "mark": {"type": "text", "fontSize": 11, "color": "#2b2bd0", "align": "right", "baseline": "middle", "clip": false},
          "encoding": {
            "text": {"field": "label"},
            "x": {"datum": 37.1, "type": "quantitative", "scale": {"domain": [-1.5, 37.1], "nice": false, "zero": false}, "axis": {"values": [-1.5,-1,-0.5,0,0.5,1,1.5,2,2.5,3,3.5,4,4.5,5,5.5,6,6.5,7,7.5,8,8.5,9,9.5,10,10.5,11,11.5,12,12.5,13,13.5,14,14.5,15,15.5,16,16.5,17,17.5,18,18.5,19,19.5,20,20.5,21,21.5,22,22.5,23,23.5,24,24.5,25,25.5,26,26.5,27,27.5,28,28.5,29,29.5,30,30.5,31,31.5,32,32.5,33,33.5,34,34.5,35,35.5,36,36.5,37,37.1], "labelExpr": "(datum.value === -1.5 || datum.value === 37.1 || datum.value % 2 === 0) ? replace(format(datum.value, '.1f'), '\u2212', '-') : ''", "labelOverlap": false, "labelFlush": false, "labelFontSize": 11, "labelColor": "#1a1a1a", "labelPadding": 1, "offset": 3, "grid": false, "domainColor": "#2a2a2a", "tickColor": "#2a2a2a", "tickSize": {"condition": {"test": "datum.value === -1.5 || datum.value === 37.1 || datum.value % 2 === 0", "value": 6}, "value": 3}, "title": "min", "titleFontSize": 11, "titleFontWeight": "normal", "titleColor": "#1a1a1a", "titleAnchor": null, "titleAlign": "right", "titleBaseline": "alphabetic", "titleX": 1274, "titleY": -10}},
            "y": {"datum": 3557000, "type": "quantitative", "scale": {"domain": [-500000, 3500000], "nice": false, "zero": false}, "axis": {"values": [-500000,-450000,-400000,-350000,-300000,-250000,-200000,-150000,-100000,-50000,0,50000,100000,150000,200000,250000,300000,350000,400000,450000,500000,550000,600000,650000,700000,750000,800000,850000,900000,950000,1000000,1050000,1100000,1150000,1200000,1250000,1300000,1350000,1400000,1450000,1500000,1550000,1600000,1650000,1700000,1750000,1800000,1850000,1900000,1950000,2000000,2050000,2100000,2150000,2200000,2250000,2300000,2350000,2400000,2450000,2500000,2550000,2600000,2650000,2700000,2750000,2800000,2850000,2900000,2950000,3000000,3050000,3100000,3150000,3200000,3250000,3300000,3350000,3400000,3450000,3500000], "labelExpr": "datum.value % 250000 === 0 ? replace(replace(format(datum.value, '.1e'), '+', ''), '\u2212', '-') : ''", "labelOverlap": false, "labelFlush": false, "labelFontSize": 11, "labelColor": "#3535d0", "labelPadding": 3, "offset": 3, "grid": false, "domainColor": "#2a2a2a", "tickColor": "#2a2a2a", "tickSize": {"condition": {"test": "datum.value % 250000 === 0", "value": 5}, "value": 2.5}, "title": "µAU", "titleAngle": 0, "titleFontSize": 11, "titleFontWeight": "normal", "titleColor": "#1a1a1a", "titleAnchor": null, "titleAlign": "left", "titleBaseline": "top", "titleX": 8, "titleY": 5}}
          }
        }
      ]
    }
  ]
}
